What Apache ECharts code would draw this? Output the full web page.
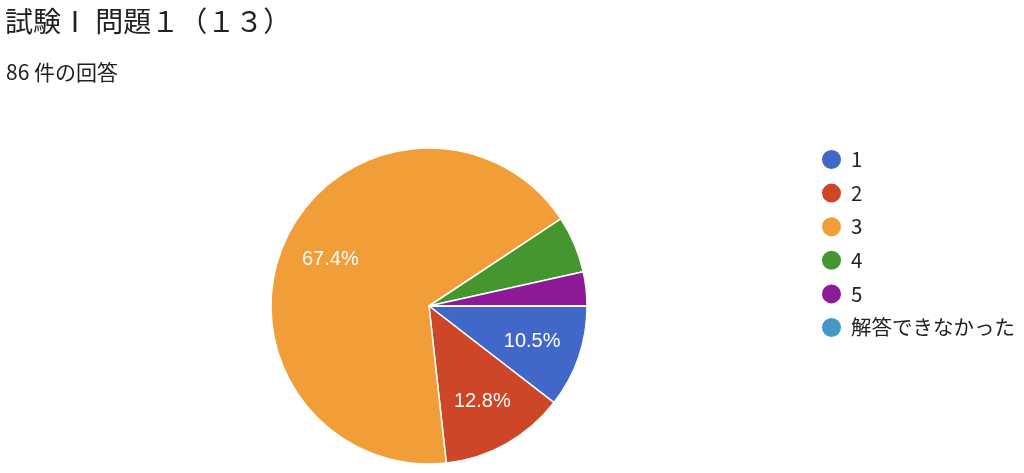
<!DOCTYPE html>
<html><head><meta charset="utf-8">
<script src="https://cdn.jsdelivr.net/npm/echarts@6/dist/echarts.min.js"></script>
<style>html,body{margin:0;padding:0;background:#fff}#c{width:1024px;height:473px}</style>
</head><body><div id="c"></div>
<script>
const titleText = '試験Ⅰ 問題１（１３）';
const subtitleText = '86 件の回答';
const categories = ['1', '2', '3', '4', '5', '解答できなかった'];
const counts = [9, 11, 58, 5, 3, 0];
const colors = ['#4168c9', '#cc4627', '#f19e38', '#46962f', '#8d1a96', '#4497c7'];

const font = '"Noto Sans CJK JP", "Noto Sans", sans-serif';
const data = categories.map((n, i) => ({ name: n, value: counts[i] }));
const chart = echarts.init(document.getElementById('c'));
chart.setOption({
  animation: false,
  color: colors,
  title: [{
    text: titleText, left: 5, top: 7, padding: 0,
    textStyle: { fontFamily: font, fontSize: 28, fontWeight: 'normal', color: '#202124' }
  }, {
    text: subtitleText, left: 6, top: 62, padding: 0,
    textStyle: { fontFamily: font, fontSize: 21, fontWeight: 'normal', color: '#202124' }
  }],
  legend: {
    orient: 'vertical', left: 820, top: 148, icon: 'circle', padding: 0,
    itemWidth: 21, itemHeight: 21, itemGap: 10.6,
    data: categories,
    textStyle: { fontFamily: font, fontSize: 20.5, color: '#222', padding: [0, 0, 0, 4], lineHeight: 21 }
  },
  series: [{
    type: 'pie', center: [429, 306], radius: [0, 158],
    startAngle: 0, clockwise: true, silent: true,
    itemStyle: { borderColor: '#fff', borderWidth: 1.5 },
    label: { show: false }, labelLine: { show: false },
    data: data
  }, {
    type: 'pie', center: [429, 306], radius: [54, 158],
    startAngle: 0, clockwise: true, silent: true,
    itemStyle: { color: 'rgba(0,0,0,0)', borderWidth: 0 },
    label: {
      show: true, position: 'inside', color: '#fff', fontSize: 20,
      fontFamily: '"Liberation Sans", Arial, sans-serif',
      formatter: p => p.percent >= 10 ? p.percent.toFixed(1) + '%' : ''
    },
    labelLine: { show: false },
    data: data
  }]
});
</script></body></html>
